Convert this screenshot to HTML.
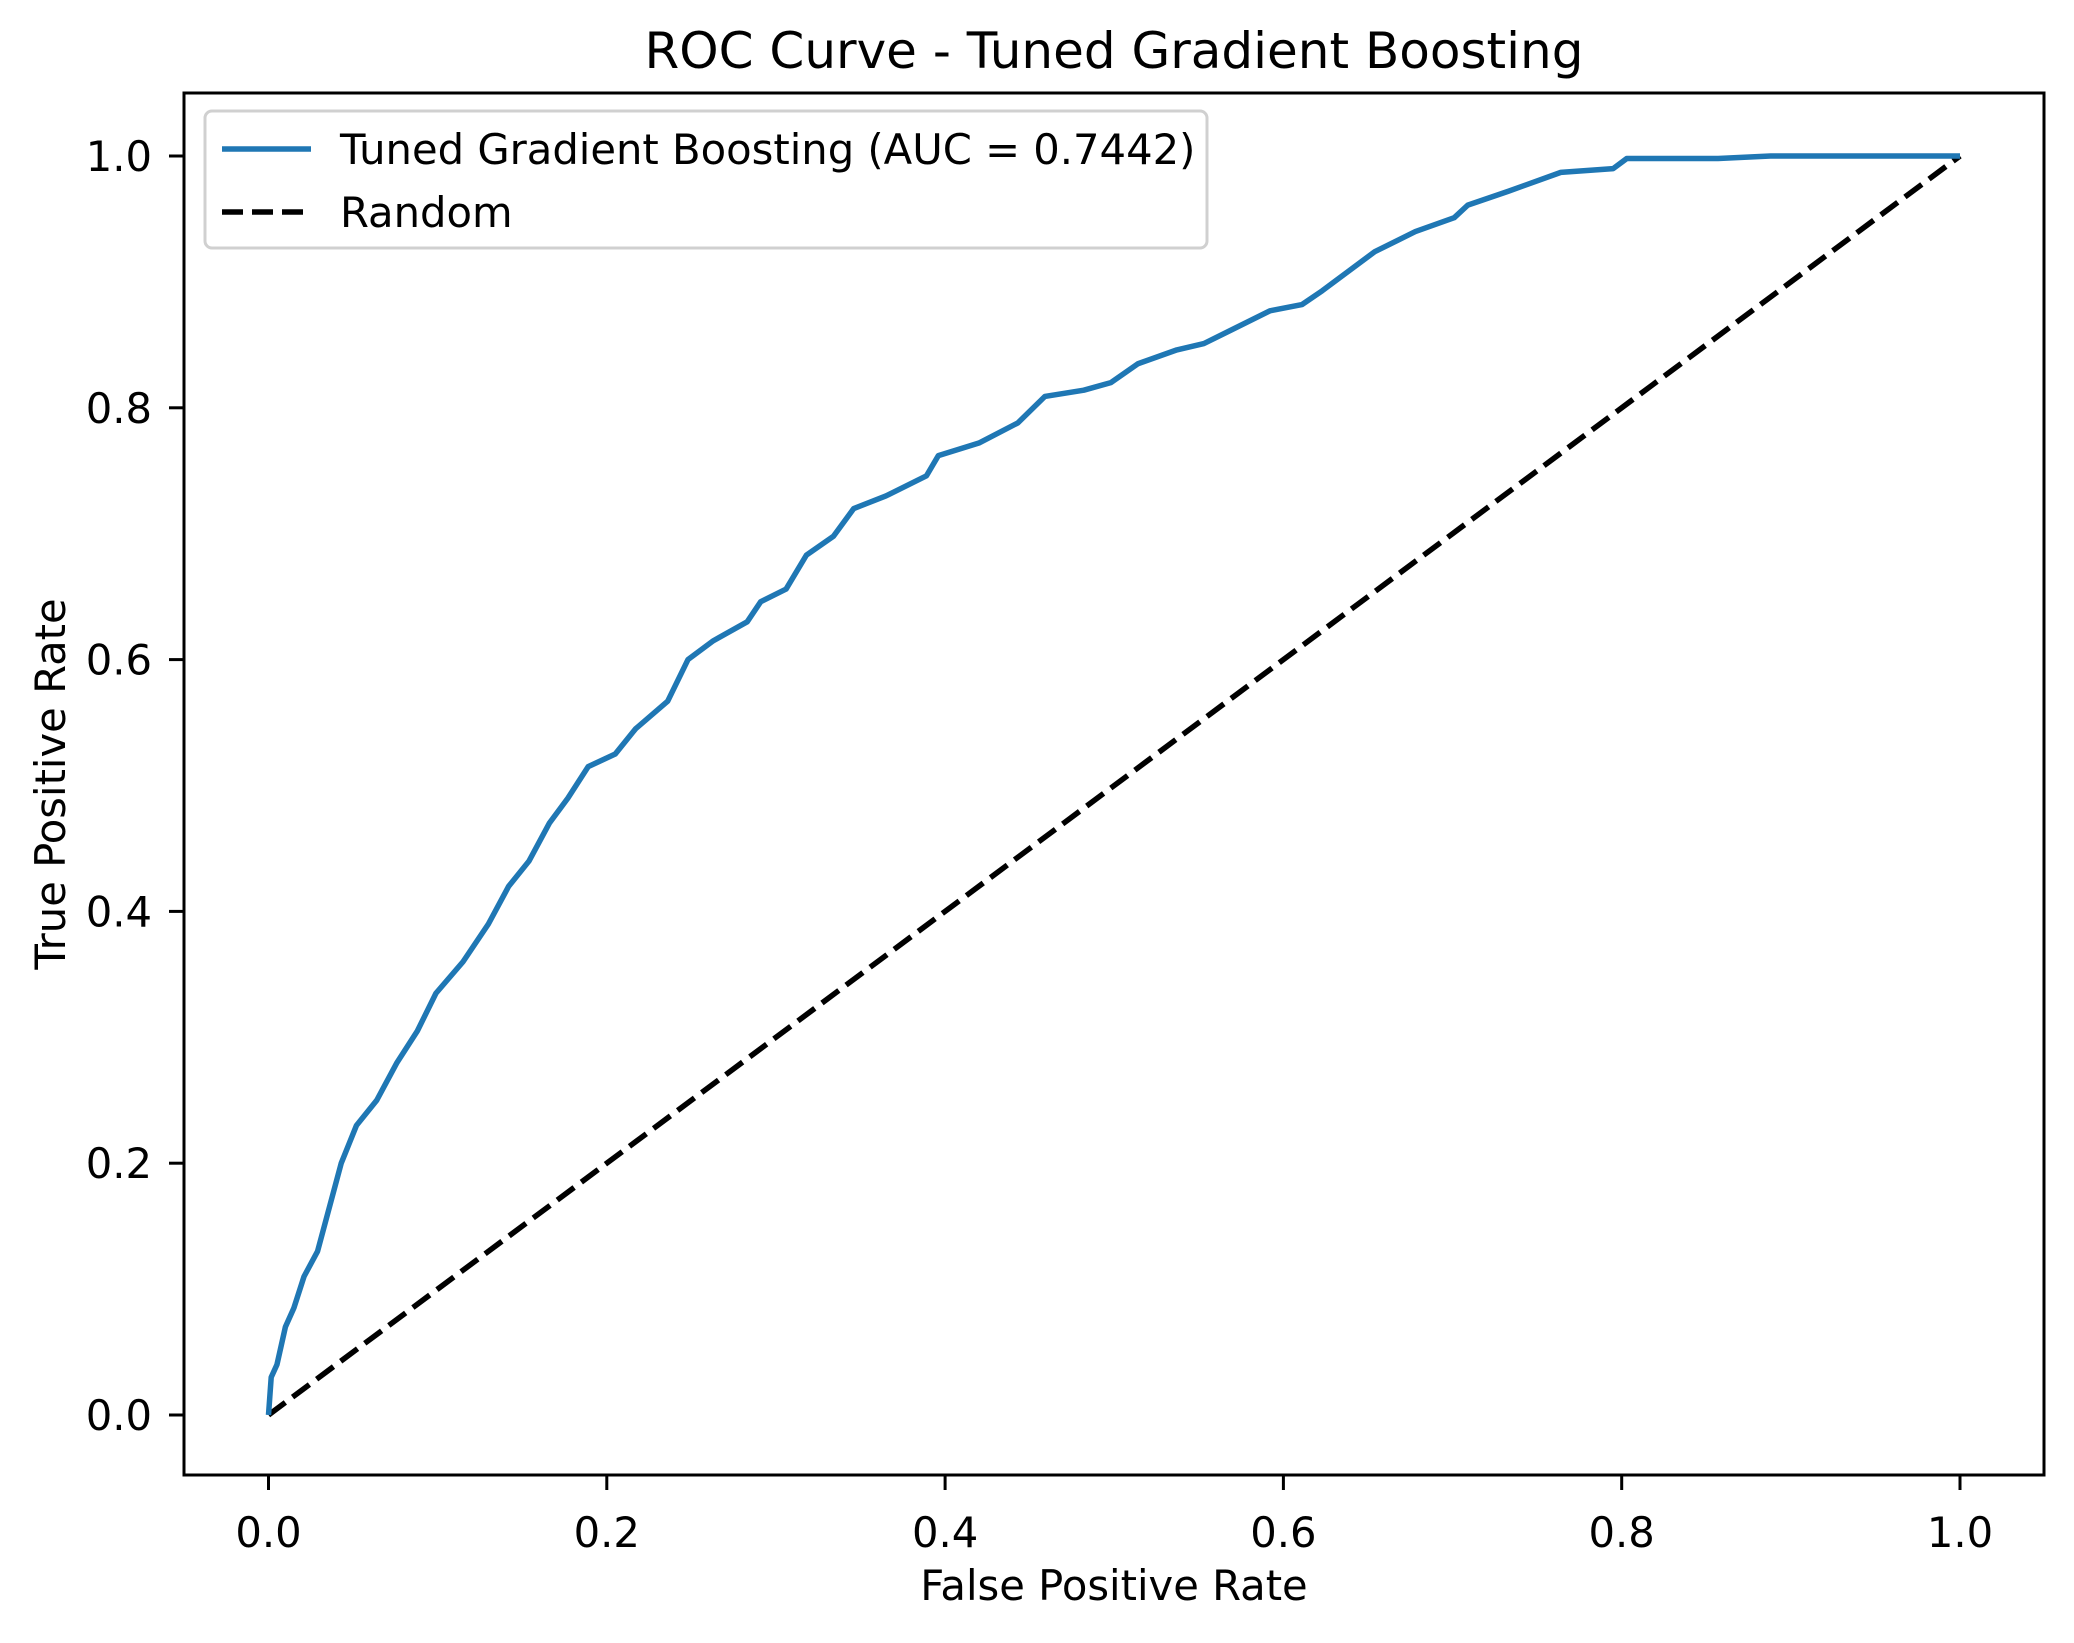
<!DOCTYPE html>
<html><head><meta charset="utf-8"><style>
body{margin:0;background:#fff}
svg text{font-family:"DejaVu Sans","Liberation Sans",sans-serif;fill:#000}
</style></head><body>
<svg width="2074" height="1638" viewBox="0 0 2074 1638" xmlns="http://www.w3.org/2000/svg">
<rect width="2074" height="1638" fill="#fff"/>
<text x="1114" y="68" font-size="50" text-anchor="middle">ROC Curve - Tuned Gradient Boosting</text>
<g id="ticks"></g>
<line id="diag" stroke="#000" stroke-width="5.5" stroke-dasharray="21,9"/>
<polyline id="roc" fill="none" stroke="#1f77b4" stroke-width="5.5" stroke-linejoin="round"/>
<rect x="184" y="93" width="1860" height="1382" fill="none" stroke="#000" stroke-width="3"/>
<text x="1114" y="1600" font-size="41.7" text-anchor="middle">False Positive Rate</text>
<text transform="translate(65,784) rotate(-90)" font-size="41.7" text-anchor="middle">True Positive Rate</text>
<g>
<rect x="205" y="111" width="1002" height="137" rx="7" fill="#fff" fill-opacity="0.8" stroke="#d0d0d0" stroke-width="3"/>
<line x1="222" y1="149" x2="311" y2="149" stroke="#1f77b4" stroke-width="5.5"/>
<text x="340" y="164" font-size="41.7">Tuned Gradient Boosting (AUC = 0.7442)</text>
<line x1="222" y1="212" x2="311" y2="212" stroke="#000" stroke-width="5.5" stroke-dasharray="21,9"/>
<text x="340" y="227" font-size="41.7">Random</text>
</g>
</svg>
<script>
const fpr=[0,0.0016,0.005,0.01,0.015,0.021,0.029,0.037,0.043,0.052,0.064,0.076,0.088,0.099,0.115,0.13,0.142,0.154,0.166,0.177,0.189,0.205,0.217,0.236,0.248,0.263,0.283,0.291,0.306,0.318,0.334,0.346,0.365,0.389,0.396,0.42,0.443,0.459,0.482,0.498,0.514,0.537,0.553,0.568,0.592,0.611,0.623,0.639,0.654,0.678,0.701,0.709,0.733,0.764,0.795,0.803,0.857,0.888,1];
const tpr=[0,0.03,0.04,0.07,0.085,0.11,0.13,0.17,0.2,0.23,0.25,0.28,0.305,0.335,0.36,0.39,0.42,0.44,0.47,0.49,0.515,0.525,0.545,0.567,0.6,0.615,0.63,0.646,0.656,0.683,0.698,0.72,0.73,0.746,0.762,0.772,0.788,0.809,0.814,0.82,0.835,0.846,0.851,0.861,0.877,0.882,0.893,0.909,0.924,0.94,0.951,0.961,0.972,0.987,0.99,0.998,0.998,1,1];
const ticks=[0,0.2,0.4,0.6,0.8,1.0];
const tickLabels=["0.0","0.2","0.4","0.6","0.8","1.0"];
const X=v=>268.5+v*(1960-268.5), Y=v=>1415-v*(1415-156);
const NS="http://www.w3.org/2000/svg";
document.getElementById('roc').setAttribute('points',fpr.map((f,i)=>X(f)+','+Y(tpr[i])).join(' '));
const d=document.getElementById('diag');
d.setAttribute('x1',X(0));d.setAttribute('y1',Y(0));d.setAttribute('x2',X(1));d.setAttribute('y2',Y(1));
const g=document.getElementById('ticks');
ticks.forEach((t,i)=>{
 let l=document.createElementNS(NS,'line');
 
 
 l.setAttribute('x1',X(t));l.setAttribute('x2',X(t));l.setAttribute('y1',1475);l.setAttribute('y2',1490);l.setAttribute('stroke','#000');l.setAttribute('stroke-width','3');g.appendChild(l);
 let tx=document.createElementNS(NS,'text');
 
 
 tx.setAttribute('x',X(t));tx.setAttribute('y',1547);tx.setAttribute('font-size','41.7');tx.setAttribute('text-anchor','middle');tx.textContent=tickLabels[i];g.appendChild(tx);
 let l2=document.createElementNS(NS,'line');
 
 
 l2.setAttribute('y1',Y(t));l2.setAttribute('y2',Y(t));l2.setAttribute('x1',169);l2.setAttribute('x2',184);l2.setAttribute('stroke','#000');l2.setAttribute('stroke-width','3');g.appendChild(l2);
 let ty=document.createElementNS(NS,'text');
 
 
 ty.setAttribute('x',152);ty.setAttribute('y',Y(t)+15);ty.setAttribute('font-size','41.7');ty.setAttribute('text-anchor','end');ty.textContent=tickLabels[i];g.appendChild(ty);
});
</script>
</body></html>
